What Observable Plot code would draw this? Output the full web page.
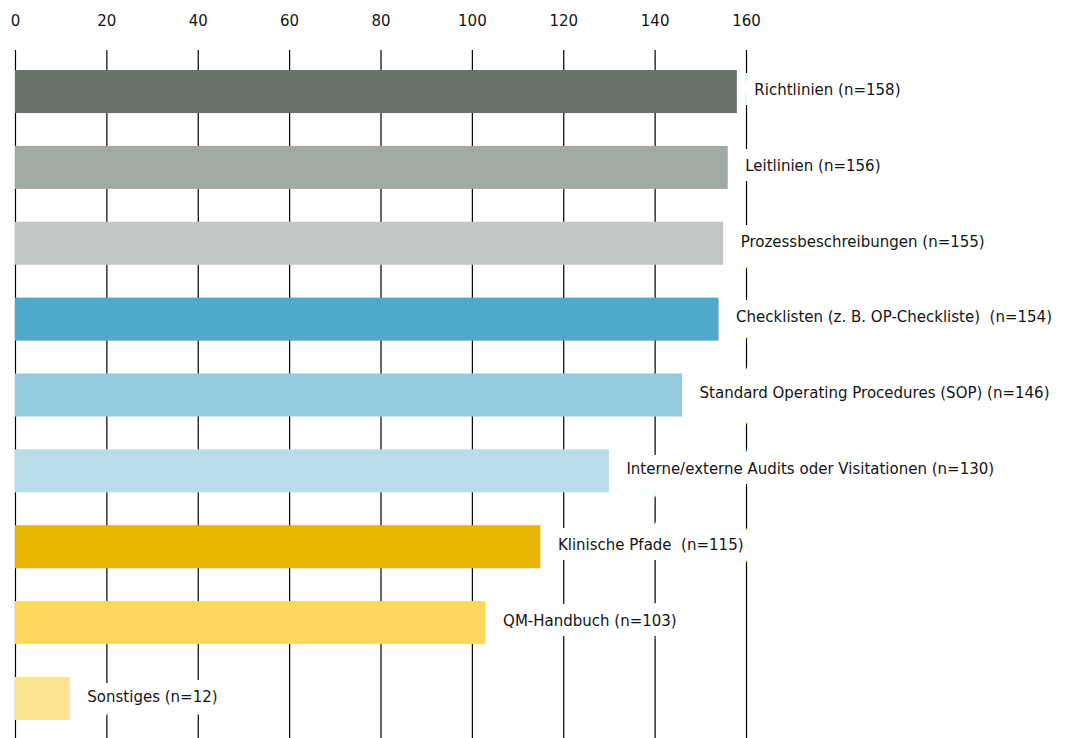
<!DOCTYPE html>
<html>
<head>
<meta charset="utf-8">
<script src="https://cdn.jsdelivr.net/npm/d3@7"></script>
<script src="https://cdn.jsdelivr.net/npm/@observablehq/plot@0.6"></script>
<style>
  html, body { margin: 0; padding: 0; background: #fff; overflow: hidden; }
  #chart svg { display: block; }
</style>
</head>
<body>
<div id="chart"></div>
<script>
const categories = [
  "Richtlinien",
  "Leitlinien",
  "Prozessbeschreibungen",
  "Checklisten (z. B. OP-Checkliste) ",
  "Standard Operating Procedures (SOP)",
  "Interne/externe Audits oder Visitationen",
  "Klinische Pfade ",
  "QM-Handbuch",
  "Sonstiges"
];
const values = [158, 156, 155, 154, 146, 130, 115, 103, 12];
const colors = ["#68736a", "#a2aaa4", "#c2c8c4", "#4fa9cb", "#94cadf", "#b9dcea", "#e8b500", "#fed95b", "#fee38e"];
const xTicks = [0, 20, 40, 60, 80, 100, 120, 140, 160];

const data = categories.map((c, i) => ({
  category: c,
  value: values[i],
  label: `${c} (n=${values[i]})`
}));

const chart = Plot.plot({
  width: 1067,
  height: 740,
  marginLeft: 15,
  marginRight: 321,
  marginTop: 50,
  marginBottom: 0,
  style: { fontFamily: "DejaVu Sans", fontSize: "15px", color: "#111", background: "#fff" },
  x: { domain: [0, 160], axis: null, label: null },
  y: { domain: categories, axis: null, paddingInner: 0.433, paddingOuter: 0.264, round: false },
  color: { domain: categories, range: colors },
  marks: [
    Plot.gridX(xTicks, { stroke: "#000", strokeOpacity: 1, strokeWidth: 1.2 }),
    Plot.text(data, {
      x: "value", y: "category", text: "label", dx: 17, dy: -2, textAnchor: "start",
      fill: "#151515", stroke: "#fff", strokeWidth: 20, strokeLinejoin: "miter", fontSize: 15
    }),
    Plot.barX(data, { x: "value", y: "category", fill: "category" }),
    Plot.axisX(xTicks, { anchor: "top", tickSize: 0, tickPadding: 25, fontSize: 15, fill: "#151515", label: null })
  ]
});

document.getElementById("chart").appendChild(chart);
</script>
</body>
</html>
